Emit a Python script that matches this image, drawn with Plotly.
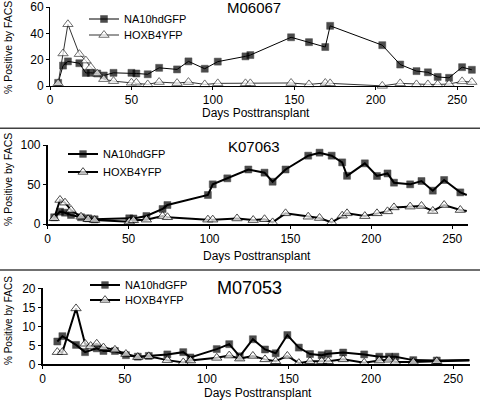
import plotly.graph_objects as go

# ---------------- data ----------------
# Panel 1: M06067
m06067_na_days = [5, 8, 11, 18, 22, 25, 29, 33, 39, 50, 53, 60, 67, 78, 85, 95, 103, 120, 123,
                  148, 159, 169, 172, 204, 215, 225, 232, 238, 245, 253, 259]
m06067_na_vals = [2.4, 15.5, 18.7, 17.3, 9.9, 10, 9.5, 8, 10, 10, 9.5, 8.9, 13.8, 12.6, 18.7, 13.1,
                  18.5, 22.5, 23.5, 37, 33.3, 29.6, 45.7, 31, 16.3, 11.3, 10.4, 6.9, 6.2, 14.3, 12.3]
m06067_hox_days = m06067_na_days
m06067_hox_vals = [2, 24.7, 46.9, 24.2, 19.3, 14.3, 9.4, 5.2, 3.7, 2.5, 2.5, 1.2, 3, 2.2, 3, 1.2,
                   2, 2, 2, 2.3, 1.2, 2.3, 2, 0.1, 2, 1.2, 1.2, 1.2, 1.5, 3.5, 3]

# Panel 2: K07063
k07063_na_days = [4, 7.6, 10.7, 14.4, 20.6, 25, 29, 50.4, 53, 61, 71, 74, 99, 102, 111, 124, 134,
                  139, 147, 161, 168, 175.5, 182, 185, 196, 203.5, 210, 214, 224, 231, 238, 245, 255, 259]
k07063_na_vals = [8.5, 15.6, 14.3, 11.4, 8.5, 7.2, 5.9, 7.2, 7, 10.1, 19, 24, 36.7, 50.2, 57.8, 69,
                  65, 53.5, 69, 86.5, 90.3, 86.5, 78, 61, 76.8, 60.8, 64, 52.3, 50.2, 54.4, 42.2,
                  55.7, 40, 36.7]
k07063_hox_days = [4, 7.6, 10.7, 14.4, 20.6, 25, 29, 50.4, 53, 61, 71, 74, 99, 102, 117, 127, 134,
                   139, 147, 161, 168, 175.5, 182, 185, 196, 203.5, 210, 214, 224, 231, 238, 245, 255, 259]
k07063_hox_vals = [7.2, 30.4, 27, 17.7, 9.2, 6, 5, 3, 4.7, 5.5, 10, 8.5, 5.5, 5.5, 7, 5, 6, 2, 13.5,
                   9.2, 7.6, 2, 10.5, 13.5, 10, 13.5, 16, 21, 22, 22.8, 16.5, 24, 17.7, 16.5]

# Panel 3: M07053
m07053_na_days = [8.9, 12, 20.3, 25.8, 32.9, 37, 44, 50.7, 57.9, 64.6, 75.9, 85.6, 90, 106, 113.6,
                  120, 128, 135.4, 141.9, 149, 156, 162.8, 169.9, 173.9, 183, 195.8, 205, 210.9,
                  214.8, 225.7, 240, 260]
m07053_na_vals = [6, 7.4, 5.1, 3.2, 4.2, 3.5, 3.5, 2.4, 2, 2.2, 2.6, 3.2, 1.8, 4, 5.3, 2.1, 6.6,
                  3.9, 2.9, 7.7, 4.4, 2.7, 2.4, 2.8, 3.1, 2.6, 2, 2, 2, 1.1, 1, 1.1]
m07053_hox_days = [8.9, 12, 20.3, 25.8, 29.2, 32.9, 37, 44, 50.7, 57.9, 64.6, 75.9, 85.6, 90, 106,
                   113.6, 120, 128, 135.4, 141.9, 149, 156, 162.8, 169.9, 173.9, 183, 195.8, 205,
                   210.9, 214.8, 225.7, 240, 260]
m07053_hox_vals = [3.2, 3.2, 14.7, 5.4, 4.8, 5.4, 4.4, 3.8, 2.7, 1.9, 2.1, 1.1, 0.5, 1, 1.7, 2.3,
                   1.5, 2.2, 1.3, 0.8, 2.2, 0.3, 0.8, 0.8, 0.8, 1.3, 0.4, 1, 1.2, 0.6, 0.6, 0.8, 1]

panel_titles = ["M06067", "K07063", "M07053"]
series_names = ["NA10hdGFP", "HOXB4YFP"]
y_maxes = [60, 100, 20]
y_dticks = [20, 50, 5]
x_max = 260
x_dtick = 50
x_title = "Days Posttransplant"
y_title = "% Positive by FACS"

# ---------------- layout helpers ----------------
W, H = 480, 401
FONT = "Arial, Liberation Sans, sans-serif"


def px(x):
    return x / W


def py(y):
    return 1 - y / H


# pixel boxes: (left, right, top, bottom)
boxes = [(50, 473.5, 7, 86), (47.7, 468.4, 145, 224), (42.7, 469.6, 288.3, 364.3)]
line_w = [1, 2, 2]
axis_w = [1, 1.5, 1.5]
hide_last_marker = [False, True, True]

panels = [
    (m06067_na_days, m06067_na_vals, m06067_hox_days, m06067_hox_vals),
    (k07063_na_days, k07063_na_vals, k07063_hox_days, k07063_hox_vals),
    (m07053_na_days, m07053_na_vals, m07053_hox_days, m07053_hox_vals),
]

# legend (text-left x, row1 y, row2 y)
legend_pos = [(124, 19, 35), (103, 154, 172), (125, 285, 300)]
title_pos = [(254.5, 7, 15), (254.5, 147, 15), (249, 288, 18)]
xtitle_pos = [(256, 113), (257, 256), (258, 393)]
ytitle_pos = [(8, 48, 10.5), (8, 180, 10.5), (8, 321, 10)]


def sizes(n, s, hide_last):
    return [s] * (n - 1) + [0 if hide_last else s]


fig = go.Figure()
layout = dict(
    width=W, height=H, margin=dict(l=0, r=0, t=0, b=0, pad=0, autoexpand=False),
    paper_bgcolor="white", plot_bgcolor="white",
    font=dict(family=FONT, size=12, color="black"),
    showlegend=True,
)
annotations = []
shapes = []

for i, (nd, nv, hd, hv) in enumerate(panels):
    k = i + 1
    sx = "" if k == 1 else str(k)
    xa, ya = "x" + sx, "y" + sx
    l, r, t, b = boxes[i]
    lw = line_w[i]
    hox_line = "#333" if i == 0 else "black"
    lg1 = "legend" if i == 0 else "legend%d" % (2 * i + 1)
    lg2 = "legend%d" % (2 * i + 2)
    fig.add_trace(go.Scatter(
        x=nd, y=nv, name=series_names[0], mode="lines+markers", xaxis=xa, yaxis=ya,
        line=dict(color="black", width=lw),
        marker=dict(symbol="square", size=sizes(len(nd), 7, hide_last_marker[i]), color="black",
                    line=dict(color="black", width=0.5)),
        cliponaxis=False, legend=lg1))
    fig.add_trace(go.Scatter(
        x=hd, y=hv, name=series_names[1], mode="lines+markers", xaxis=xa, yaxis=ya,
        line=dict(color=hox_line, width=lw),
        marker=dict(symbol="triangle-up", size=sizes(len(hd), 9, hide_last_marker[i]),
                    color="white", line=dict(color=hox_line, width=1)),
        cliponaxis=False, legend=lg2))

    common = dict(showgrid=False, zeroline=False, ticks="outside", ticklen=3,
                  tickwidth=1, tickcolor="black", showline=True, linecolor="black",
                  linewidth=axis_w[i], tickfont=dict(family=FONT, size=12),
                  automargin=False, ticklabeloverflow="allow")
    layout["xaxis" + sx] = dict(domain=[px(l), px(r)], range=[0, x_max], dtick=x_dtick,
                                anchor=ya, **common)
    layout["yaxis" + sx] = dict(domain=[py(b), py(t)], range=[0, y_maxes[i]],
                                dtick=y_dticks[i], anchor=xa, **common)
    # inside tick overlays (ticks crossing the axis)
    ox, oy = "xaxis%d" % (k + 3), "yaxis%d" % (k + 3)
    inner = dict(showgrid=False, zeroline=False, ticks="inside", ticklen=3, tickwidth=1,
                 tickcolor="black", showline=False, showticklabels=False, automargin=False)
    layout[ox] = dict(domain=[px(l), px(r)], range=[0, x_max], dtick=x_dtick,
                      overlaying=xa, anchor=ya, **inner)
    layout[oy] = dict(domain=[py(b), py(t)], range=[0, y_maxes[i]], dtick=y_dticks[i],
                      overlaying=ya, anchor=xa, **inner)

    tx, r1, r2 = legend_pos[i]
    for name, ry in ((lg1, r1), (lg2, r2)):
        layout[name] = dict(x=px(tx - 40), y=py(ry), xanchor="left", yanchor="middle",
                            bgcolor="rgba(0,0,0,0)", borderwidth=0,
                            font=dict(family=FONT, size=11), itemwidth=30,
                            tracegroupgap=0)

    cx, cy, fs = title_pos[i]
    annotations.append(dict(text=panel_titles[i], x=px(cx), y=py(cy), xref="paper",
                            yref="paper", showarrow=False, xanchor="center",
                            yanchor="middle", font=dict(family=FONT, size=fs)))
    cx, cy = xtitle_pos[i]
    annotations.append(dict(text=x_title, x=px(cx), y=py(cy), xref="paper", yref="paper",
                            showarrow=False, xanchor="center", yanchor="middle",
                            font=dict(family=FONT, size=12)))
    cx, cy, fs = ytitle_pos[i]
    annotations.append(dict(text=y_title, x=px(cx), y=py(cy), xref="paper", yref="paper",
                            showarrow=False, xanchor="center", yanchor="middle",
                            textangle=-90, font=dict(family=FONT, size=fs)))

for sy in (128.3, 270):
    shapes.append(dict(type="line", xref="paper", yref="paper", x0=0, x1=1,
                       y0=py(sy), y1=py(sy), line=dict(color="#404040", width=1.5)))

layout["annotations"] = annotations
layout["shapes"] = shapes
fig.update_layout(**layout)
fig.write_html("out.html", config={"displayModeBar": False},
               post_script="document.body.style.margin='0px';document.body.style.overflow='hidden';")
